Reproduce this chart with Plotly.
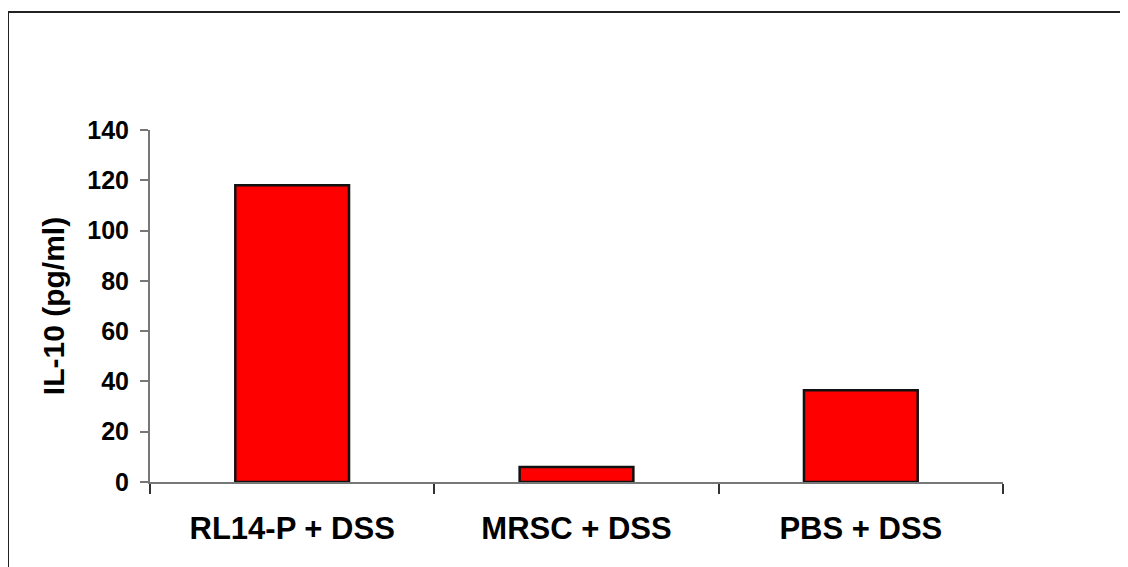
import plotly.graph_objects as go

categories = ["RL14-P + DSS", "MRSC + DSS", "PBS + DSS"]
values = [118, 6, 36.5]
y_ticks = [0, 20, 40, 60, 80, 100, 120, 140]
y_title = "IL-10 (pg/ml)"

# page body adds an 8px offset; size the figure so it fits the 1128x567 window
OFF = 8
W, H = 1128 - OFF, 567 - OFF
ML, MR, MT, MB = 150 - OFF, 125, 130 - OFF, 85
pw, ph = W - ML - MR, H - MT - MB

def px_x(x):
    return (x - OFF - ML) / pw

def px_y(y):
    return (H - MB - (y - OFF)) / ph

FONT = "Liberation Sans, Arial, sans-serif"

fig = go.Figure(go.Bar(
    x=categories, y=values,
    marker=dict(color="#FF0000", line=dict(color="#111111", width=2.5)),
))

fig.update_layout(
    width=W, height=H,
    margin=dict(l=ML, r=MR, t=MT, b=MB, autoexpand=False),
    paper_bgcolor="white", plot_bgcolor="white",
    bargap=0.6, showlegend=False,
    font=dict(family=FONT, color="black"),
    shapes=[
        dict(type="line", xref="paper", yref="paper",
             x0=px_x(8), x1=px_x(1135), y0=px_y(12), y1=px_y(12),
             line=dict(color="#222222", width=2)),
        dict(type="line", xref="paper", yref="paper",
             x0=px_x(8), x1=px_x(8), y0=px_y(12), y1=px_y(575),
             line=dict(color="#222222", width=2)),
    ],
)

fig.update_xaxes(
    showline=True, linecolor="#777777", linewidth=2,
    ticks="outside", tickson="boundaries", ticklen=10, tickcolor="#333333", tickwidth=1.5,
    tickfont=dict(family=FONT, size=31, color="black", weight="bold"),
    ticklabelstandoff=18,
    showgrid=False, zeroline=False,
)
fig.update_yaxes(
    range=[0, 140], tickvals=y_ticks,
    showline=True, linecolor="#777777", linewidth=2,
    ticks="outside", ticklen=8, tickcolor="#777777", tickwidth=1.5,
    tickfont=dict(family=FONT, size=25, color="black", weight="bold"),
    ticklabelstandoff=6,
    showgrid=False, zeroline=False,
    title=dict(text=y_title, font=dict(family=FONT, size=30, color="black", weight="bold"), standoff=14),
)

fig.write_html("out.html")
